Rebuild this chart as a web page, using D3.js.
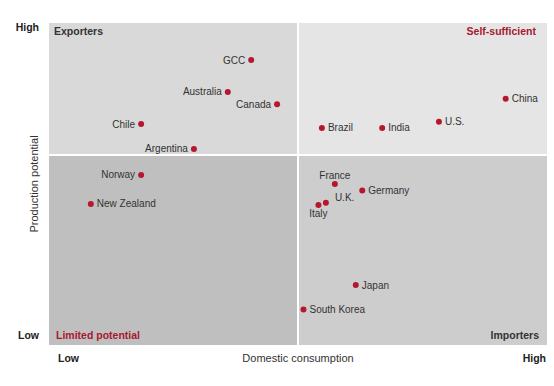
<!DOCTYPE html>
<html>
<head>
<meta charset="utf-8">
<script src="https://cdn.jsdelivr.net/npm/d3@7/dist/d3.min.js"></script>
<style>
  body { margin: 0; background: #fff; }
  svg text { font-family: "Liberation Sans", Arial, sans-serif; }
</style>
</head>
<body>
<svg id="chart" width="554" height="386"></svg>
<script>
(function() {
    'use strict';

    // data (0-100 relative scales)
    var countries   = ['GCC', 'Australia', 'Canada', 'Chile', 'Argentina', 'Norway', 'New Zealand',
                       'Brazil', 'India', 'U.S.', 'China', 'France', 'Germany', 'U.K.', 'Italy',
                       'Japan', 'South Korea'];
    var consumption = [40.6, 35.9, 45.8, 18.5, 29.1, 18.5, 8.4,
                       54.8, 66.9, 78.3, 91.7, 57.4, 62.9, 55.6, 54.1,
                       61.6, 51.1];
    var production  = [88.5, 78.6, 74.8, 68.6, 60.9, 52.8, 43.8,
                       67.4, 67.4, 69.3, 76.5, 50.0, 48.0, 44.2, 43.5,
                       18.6, 11.0];
    var splitX = 50, splitY = 59;
    var quadrantNames = ['Exporters', 'Self-sufficient', 'Limited potential', 'Importers'];
    var levelLabels = ['Low', 'High'];

    // where each label sits relative to its dot
    var labelSide = {
        'GCC': 'left', 'Australia': 'left', 'Canada': 'left', 'Chile': 'left',
        'Argentina': 'left', 'Norway': 'left', 'France': 'above', 'Italy': 'below',
        'U.K.': 'aboveRight'
    };

    var margin = {top: 23, right: 7, bottom: 41, left: 49},
        width = 554 - margin.left - margin.right,
        height = 386 - margin.top - margin.bottom;

    var svg = d3.select('#chart');
    var g = svg.append('g')
        .attr('transform', 'translate(' + margin.left + ',' + margin.top + ')');

    var x = d3.scaleLinear().domain([0, 100]).range([0, width]);
    var y = d3.scaleLinear().domain([0, 100]).range([height, 0]);

    // quadrants
    var quads = [
        {x0: 0, x1: splitX, y0: splitY, y1: 100, fill: '#d9d9d9'},
        {x0: splitX, x1: 100, y0: splitY, y1: 100, fill: '#e5e5e5'},
        {x0: 0, x1: splitX, y0: 0, y1: splitY, fill: '#bfbfbf'},
        {x0: splitX, x1: 100, y0: 0, y1: splitY, fill: '#cdcdcd'}
    ];
    g.selectAll('rect.quad')
        .data(quads)
        .enter().append('rect')
        .attr('class', 'quad')
        .attr('x', function(d) { return x(d.x0); })
        .attr('y', function(d) { return y(d.y1); })
        .attr('width', function(d) { return x(d.x1) - x(d.x0); })
        .attr('height', function(d) { return y(d.y0) - y(d.y1); })
        .attr('fill', function(d) { return d.fill; });

    // white dividers
    g.append('line')
        .attr('x1', x(splitX)).attr('x2', x(splitX))
        .attr('y1', y(100)).attr('y2', y(0))
        .attr('stroke', '#fff').attr('stroke-width', 2);
    g.append('line')
        .attr('x1', x(0)).attr('x2', x(100))
        .attr('y1', y(splitY)).attr('y2', y(splitY))
        .attr('stroke', '#fff').attr('stroke-width', 2);

    // quadrant titles
    var qt = [
        {t: quadrantNames[0], x: x(0) + 5, y: 12, anchor: 'start', c: '#333'},
        {t: quadrantNames[1], x: x(100) - 11, y: 12, anchor: 'end', c: '#a6192e'},
        {t: quadrantNames[2], x: x(0) + 7, y: height - 6, anchor: 'start', c: '#a6192e'},
        {t: quadrantNames[3], x: x(100) - 8, y: height - 6, anchor: 'end', c: '#333'}
    ];
    g.selectAll('text.qt')
        .data(qt)
        .enter().append('text')
        .attr('class', 'qt')
        .attr('x', function(d) { return d.x; })
        .attr('y', function(d) { return d.y; })
        .attr('text-anchor', function(d) { return d.anchor; })
        .attr('fill', function(d) { return d.c; })
        .style('font-size', '10.5px')
        .style('font-weight', 'bold')
        .text(function(d) { return d.t; });

    // axis end labels
    g.append('text').attr('x', -10).attr('y', 8).attr('text-anchor', 'end')
        .style('font-size', '10.5px').style('font-weight', 'bold').attr('fill', '#222')
        .text(levelLabels[1]);
    g.append('text').attr('x', -10).attr('y', height - 6).attr('text-anchor', 'end')
        .style('font-size', '10.5px').style('font-weight', 'bold').attr('fill', '#222')
        .text(levelLabels[0]);
    g.append('text').attr('x', x(0) + 9).attr('y', height + 17).attr('text-anchor', 'start')
        .style('font-size', '10.5px').style('font-weight', 'bold').attr('fill', '#222')
        .text(levelLabels[0]);
    g.append('text').attr('x', x(100) - 1).attr('y', height + 17).attr('text-anchor', 'end')
        .style('font-size', '10.5px').style('font-weight', 'bold').attr('fill', '#222')
        .text(levelLabels[1]);

    // axis titles
    g.append('text')
        .attr('x', width / 2).attr('y', height + 17)
        .attr('text-anchor', 'middle')
        .style('font-size', '11px').attr('fill', '#333')
        .text('Domestic consumption');
    g.append('text')
        .attr('transform', 'translate(-11,' + (height / 2) + ') rotate(-90)')
        .attr('text-anchor', 'middle')
        .style('font-size', '11px').attr('fill', '#333')
        .text('Production potential');

    // points
    var pts = countries.map(function(c, i) {
        return {name: c, cx: consumption[i], py: production[i], side: labelSide[c] || 'right'};
    });

    g.selectAll('circle.dot')
        .data(pts)
        .enter().append('circle')
        .attr('class', 'dot')
        .attr('cx', function(d) { return x(d.cx); })
        .attr('cy', function(d) { return y(d.py); })
        .attr('r', 3)
        .attr('fill', '#b5172f');

    g.selectAll('text.lbl')
        .data(pts)
        .enter().append('text')
        .attr('class', 'lbl')
        .attr('x', function(d) {
            var px = x(d.cx);
            if (d.side === 'left') return px - 6;
            if (d.side === 'above' || d.side === 'below') return px;
            if (d.side === 'aboveRight') return px + 9;
            return px + 6;
        })
        .attr('y', function(d) {
            var py = y(d.py);
            if (d.side === 'above') return py - 9;
            if (d.side === 'below') return py + 9;
            if (d.side === 'aboveRight') return py - 5;
            return py;
        })
        .attr('dy', '0.35em')
        .attr('text-anchor', function(d) {
            if (d.side === 'left') return 'end';
            if (d.side === 'above' || d.side === 'below') return 'middle';
            return 'start';
        })
        .style('font-size', '10px')
        .attr('fill', '#333')
        .text(function(d) { return d.name; });
})();
</script>
</body>
</html>
